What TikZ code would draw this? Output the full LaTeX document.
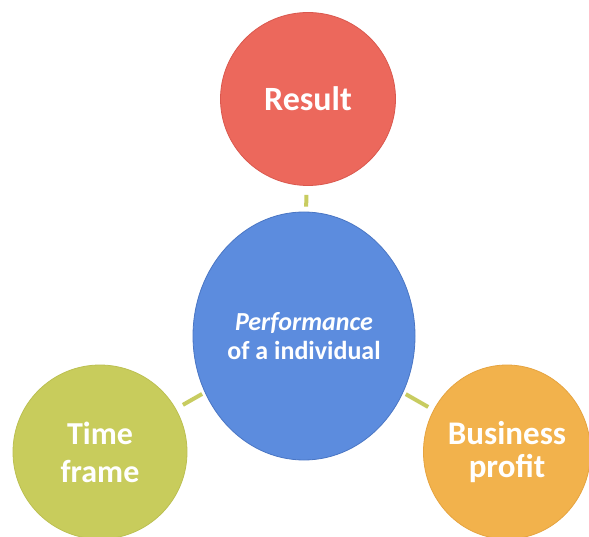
\documentclass[tikz,border=0pt]{standalone}
\usepackage{fontspec}
\setmainfont{Carlito}
\usetikzlibrary{shapes.geometric}
\definecolor{resred}{RGB}{236,104,92}
\definecolor{resedge}{RGB}{218,88,78}
\definecolor{cenblue}{RGB}{92,140,222}
\definecolor{cenedge}{RGB}{74,118,196}
\definecolor{timegreen}{RGB}{200,204,92}
\definecolor{timeedge}{RGB}{188,192,82}
\definecolor{profitorange}{RGB}{242,178,76}
\definecolor{profitedge}{RGB}{230,164,64}
\definecolor{linkgreen}{RGB}{200,204,96}
\tikzset{
  bubble/.style={ellipse, inner sep=0pt, line width=0.8pt, text=white,
    font=\bfseries\fontsize{34}{40}\selectfont, align=center},
  link/.style={draw=linkgreen, line width=4pt}
}
\begin{document}
\begin{tikzpicture}[x=1pt, y=-1pt]
  \useasboundingbox[fill=white] (0,0) rectangle (589,537);
  % four bubbles
  \node[bubble, fill=resred, draw=resedge, minimum width=175pt, minimum height=173pt]
    (res) at (308,99) {Result};
  \node[bubble, fill=cenblue, draw=cenedge, minimum width=222pt, minimum height=248pt,
    font=\bfseries\fontsize{26}{29}\selectfont]
    (cen) at (304,336) {\textit{Performance}\\of a individual};
  \node[bubble, fill=timegreen, draw=timeedge, minimum width=174pt, minimum height=174pt,
    font=\bfseries\fontsize{32}{38}\selectfont]
    (tf) at (100,452) {Time\\frame};
  \node[bubble, fill=profitorange, draw=profitedge, minimum width=160pt, minimum height=174pt,
    font=\bfseries\fontsize{33}{33}\selectfont]
    (bp) at (507,452) {Business\\profit};
  % short links between the centre and each bubble
  \draw[link, shorten <=9pt, shorten >=5pt] (res) -- (cen);
  \draw[link, shorten <=3pt, shorten >=8pt] (cen) -- (tf);
  \draw[link, shorten <=3pt, shorten >=6pt] (cen) -- (bp);
\end{tikzpicture}
\end{document}
